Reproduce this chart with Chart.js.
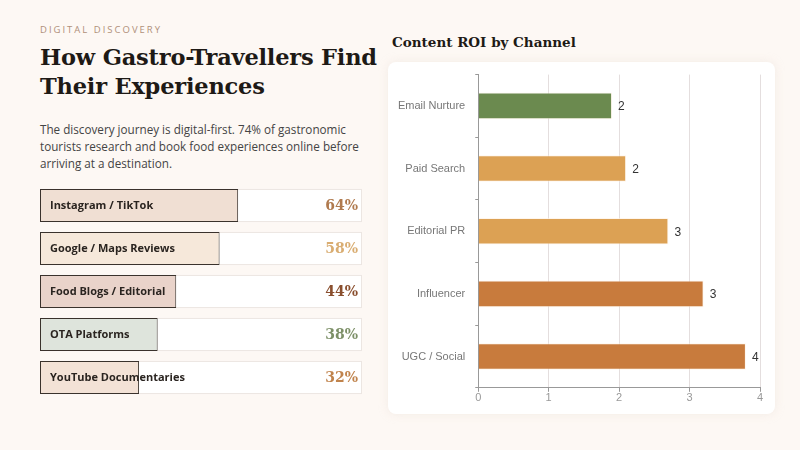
<!DOCTYPE html>
<html>
<head>
    <title>Gastro-Travellers Discovery</title>
    <script src="https://cdn.jsdelivr.net/npm/chart.js"></script>
    <style>
        body { margin: 0; width: 800px; height: 450px; background: #fdf8f4; font-family: "Open Sans", Arial, sans-serif; position: relative; overflow: hidden; }
        .eyebrow { position: absolute; left: 40px; top: 23px; font-size: 9.5px; letter-spacing: 2px; color: #b0907a; }
        h1 { position: absolute; left: 40px; top: 43px; margin: 0; font-family: "DejaVu Serif", Georgia, serif; font-size: 22.5px; line-height: 29px; font-weight: bold; color: #1e1a16; letter-spacing: -0.2px; }
        .lead { position: absolute; left: 40px; top: 121px; width: 335px; margin: 0; font-size: 11.7px; line-height: 17px; color: #444; }
        #mix-wrap { position: absolute; left: 40px; top: 184px; width: 322px; height: 215px; }
        .chart-title { position: absolute; left: 392px; top: 34px; font-family: "DejaVu Serif", Georgia, serif; font-weight: bold; font-size: 13.5px; color: #1e1a16; }
        .card { position: absolute; left: 388px; top: 62px; width: 387px; height: 352px; background: #fff; border-radius: 8px; box-shadow: 0 0 10px rgba(240,230,222,0.7); }
        #roi-wrap { position: absolute; left: 0; top: -4px; width: 387px; height: 352px; }
    </style>
</head>
<body>
    <div class="eyebrow">DIGITAL DISCOVERY</div>
    <h1>How Gastro-Travellers Find<br>Their Experiences</h1>
    <p class="lead">The discovery journey is digital-first. 74% of gastronomic tourists research and book food experiences online before arriving at a destination.</p>
    <div id="mix-wrap"><canvas id="mix-chart"></canvas></div>

    <div class="chart-title">Content ROI by Channel</div>
    <div class="card">
        <div id="roi-wrap"><canvas id="roi-chart"></canvas></div>
    </div>

    <script>
        // discovery channels (left)
        const sources = ['Instagram / TikTok', 'Google / Maps Reviews', 'Food Blogs / Editorial', 'OTA Platforms', 'YouTube Documentaries'];
        const sourceShare = [64, 58, 44, 38, 32];
        const sourceFill = ['#f0dfd3', '#f6e8da', '#e9d3ca', '#dee4dc', '#f3e2d6'];
        const sourceInk = ['#b07a4e', '#d9ad72', '#8a4f2e', '#7d9068', '#c0834c'];

        // content ROI (right)
        const channels = ['Email Nurture', 'Paid Search', 'Editorial PR', 'Influencer', 'UGC / Social'];
        const roi = [1.9, 2.1, 2.7, 3.2, 3.8];
        const roiColors = ['#6b8a4f', '#dca154', '#dca154', '#c87b3d', '#c87b3d'];
        const roiTicks = [0, 1, 2, 3, 4];

        // track boxes + text for the left bars
        const trackPlugin = {
            id: 'tracks',
            beforeDatasetsDraw(chart) {
                const { ctx, chartArea } = chart;
                const meta = chart.getDatasetMeta(0);
                ctx.save();
                meta.data.forEach(bar => {
                    const h = bar.height;
                    ctx.fillStyle = '#ffffff';
                    ctx.strokeStyle = '#ece6e2';
                    ctx.lineWidth = 1;
                    ctx.fillRect(chartArea.left, bar.y - h / 2, chartArea.right - chartArea.left, h);
                    ctx.strokeRect(chartArea.left + 0.5, bar.y - h / 2 + 0.5, chartArea.right - chartArea.left - 1, h - 1);
                });
                ctx.restore();
            },
            afterDatasetsDraw(chart) {
                const { ctx, chartArea } = chart;
                const meta = chart.getDatasetMeta(0);
                ctx.save();
                ctx.textBaseline = 'middle';
                meta.data.forEach((bar, i) => {
                    ctx.font = 'bold 11px "Open Sans", Arial, sans-serif';
                    ctx.fillStyle = '#2a2420';
                    ctx.textAlign = 'left';
                    ctx.fillText(sources[i], chartArea.left + 10, bar.y);
                    ctx.font = 'bold 14px "DejaVu Serif", Georgia, serif';
                    ctx.fillStyle = sourceInk[i];
                    ctx.textAlign = 'right';
                    ctx.fillText(sourceShare[i] + '%', chartArea.right - 4, bar.y + 1);
                });
                ctx.restore();
            }
        };

        new Chart(document.getElementById('mix-chart'), {
            type: 'bar',
            data: {
                labels: sources,
                datasets: [{
                    data: sourceShare,
                    backgroundColor: sourceFill,
                    borderColor: '#3a322c',
                    borderWidth: 1,
                    borderSkipped: false,
                    barPercentage: 1,
                    categoryPercentage: 0.77
                }]
            },
            options: {
                indexAxis: 'y',
                responsive: true,
                maintainAspectRatio: false,
                animation: false,
                layout: { padding: 0 },
                plugins: { legend: { display: false }, tooltip: { enabled: false } },
                scales: {
                    x: { display: false, min: 0, max: 104 },
                    y: { display: false }
                }
            },
            plugins: [trackPlugin]
        });

        // value labels at the bar ends
        const valueLabels = {
            id: 'valueLabels',
            afterDatasetsDraw(chart) {
                const { ctx } = chart;
                const meta = chart.getDatasetMeta(0);
                ctx.save();
                ctx.font = '12px Arial, "Liberation Sans", sans-serif';
                ctx.fillStyle = '#333';
                ctx.textAlign = 'left';
                ctx.textBaseline = 'middle';
                meta.data.forEach((bar, i) => {
                    ctx.fillText(Math.round(roi[i]), bar.x + 6, bar.y + 1);
                });
                ctx.restore();
            }
        };

        new Chart(document.getElementById('roi-chart'), {
            type: 'bar',
            data: {
                labels: channels,
                datasets: [{
                    data: roi,
                    backgroundColor: roiColors,
                    borderColor: 'rgba(255,240,225,0.6)',
                    borderWidth: 1,
                    barPercentage: 0.85,
                    categoryPercentage: 0.5
                }]
            },
            options: {
                indexAxis: 'y',
                responsive: true,
                maintainAspectRatio: false,
                animation: false,
                layout: { padding: { top: 1, right: 15, bottom: 5, left: 0 } },
                plugins: { legend: { display: false }, tooltip: { enabled: false } },
                scales: {
                    x: {
                        min: 0, max: 4,
                        afterBuildTicks: axis => { axis.ticks = roiTicks.map(v => ({ value: v })); },
                        grid: { color: '#e4dede', tickLength: 4, tickColor: '#999' },
                        border: { color: '#999' },
                        ticks: { color: '#999', font: { family: 'Arial, "Liberation Sans", sans-serif', size: 11 }, padding: 0 }
                    },
                    y: {
                        grid: { drawOnChartArea: false, tickLength: 3, tickColor: '#999' },
                        border: { color: '#999' },
                        ticks: { color: '#777', font: { family: 'Arial, "Liberation Sans", sans-serif', size: 11 }, padding: 10 }
                    }
                }
            },
            plugins: [valueLabels]
        });
    </script>
</body>
</html>
